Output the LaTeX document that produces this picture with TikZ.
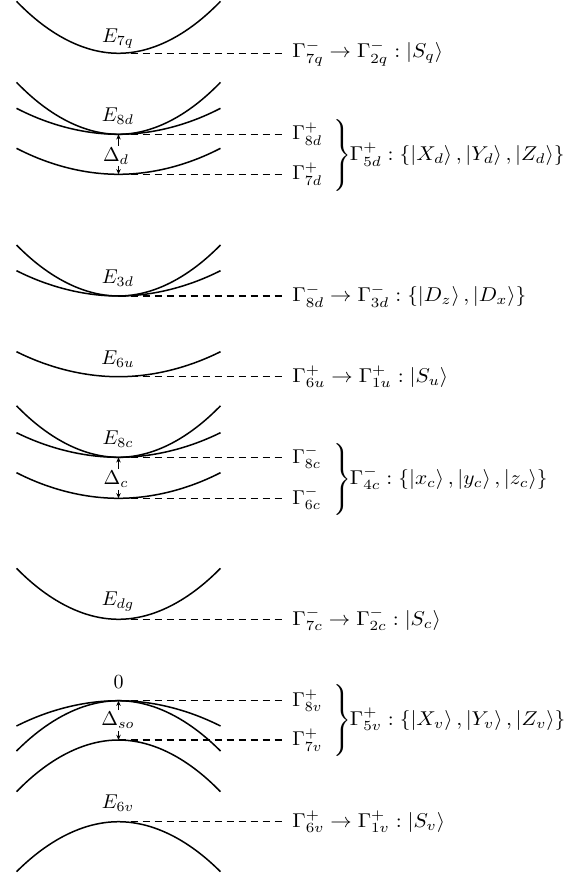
\documentclass[tikz,border=0pt]{standalone}
\usepackage{graphicx}
\usetikzlibrary{arrows.meta}
\tikzset{
  band/.style={line width=0.75pt},
  lvl/.style={line width=0.6pt, dash pattern=on 3.6pt off 2.4pt, shorten >=4pt},
  gap/.style={-{Stealth[length=2.6pt,width=2.2pt]}, line width=0.6pt},
  lab/.style={anchor=west, inner xsep=0.5pt, inner ysep=0pt},
  elab/.style={inner sep=0.5pt},
  dlab/.style={inner sep=0.8pt},
  setlab/.style={anchor=west, inner sep=0pt}
}
\newcommand{\wide}[1]{\scalebox{1.07}[1]{$#1$}}
\newcommand{\bracetext}[1]{$\left.\vrule height 16.5pt depth 16.5pt width 0pt\right\}\kern-2.5pt\wide{#1}$}
\begin{document}
\begin{tikzpicture}[x=0.5pt,y=-0.5pt]
\useasboundingbox (0,0) rectangle (577,878);

% ---- 1: E7q
\coordinate (v1) at (118.5,53.3);
\draw[band] (16.5,1.3) parabola bend (v1) (220.5,1.3);
\node[elab] (e1) at (118,39) {$E_{7q}$};
\node[lab] (g1) at (291,53.3) {\wide{\Gamma^{-}_{7q}\rightarrow\Gamma^{-}_{2q}:\left|S_q\right\rangle}};
\draw[lvl] (v1) -- (g1.west);

% ---- 2: E8d
\coordinate (v2) at (118.5,134.3);
\coordinate (w2) at (118.5,174.3);
\draw[band] (16.5,82.3) parabola bend (v2) (220.5,82.3);
\draw[band] (16.5,108.3) parabola bend (v2) (220.5,108.3);
\draw[band] (16.5,148.3) parabola bend (w2) (220.5,148.3);
\node[elab] (e2) at (118,116.3) {$E_{8d}$};
\node[dlab] (d2) at (116,156) {$\Delta_d$};
\draw[gap] (d2.north -| v2) -- (v2);
\draw[gap] (d2.south -| w2) -- (w2);
\node[lab] (g2a) at (291,134.3) {$\Gamma^{+}_{8d}$};
\node[lab] (g2b) at (291,174.3) {$\Gamma^{+}_{7d}$};
\draw[lvl] (v2) -- (g2a.west);
\draw[lvl] (w2) -- (g2b.west);
\node[setlab] (s2) at (331,156) {\bracetext{\Gamma^{+}_{5d}:\left\{\left|X_d\right\rangle,\left|Y_d\right\rangle,\left|Z_d\right\rangle\right\}}};

% ---- 3: E3d
\coordinate (v3) at (118.5,296);
\draw[band] (16.5,245) parabola bend (v3) (220.5,245);
\draw[band] (16.5,270.7) parabola bend (v3) (220.5,270.7);
\node[elab] (e3) at (118,278) {$E_{3d}$};
\node[lab] (g3) at (291,296) {\wide{\Gamma^{-}_{8d}\rightarrow\Gamma^{-}_{3d}:\left\{\left|D_z\right\rangle,\left|D_x\right\rangle\right\}}};
\draw[lvl] (v3) -- (g3.west);

% ---- 4: E6u
\coordinate (v4) at (118.5,376.7);
\draw[band] (16.5,351.7) parabola bend (v4) (220.5,351.7);
\node[elab] (e4) at (118,359) {$E_{6u}$};
\node[lab] (g4) at (291,376.7) {\wide{\Gamma^{+}_{6u}\rightarrow\Gamma^{+}_{1u}:\left|S_u\right\rangle}};
\draw[lvl] (v4) -- (g4.west);

% ---- 5: E8c
\coordinate (v5) at (118.5,457.3);
\coordinate (w5) at (118.5,498.3);
\draw[band] (16.5,405.8) parabola bend (v5) (220.5,405.8);
\draw[band] (16.5,432.7) parabola bend (v5) (220.5,432.7);
\draw[band] (16.5,472.7) parabola bend (w5) (220.5,472.7);
\node[elab] (e5) at (118,439) {$E_{8c}$};
\node[dlab] (d5) at (116,479.5) {$\Delta_c$};
\draw[gap] (d5.north -| v5) -- (v5);
\draw[gap] (d5.south -| w5) -- (w5);
\node[lab] (g5a) at (291,457.3) {$\Gamma^{-}_{8c}$};
\node[lab] (g5b) at (291,498.3) {$\Gamma^{-}_{6c}$};
\draw[lvl] (v5) -- (g5a.west);
\draw[lvl] (w5) -- (g5b.west);
\node[setlab] (s5) at (331,480) {\bracetext{\Gamma^{-}_{4c}:\left\{\left|x_c\right\rangle,\left|y_c\right\rangle,\left|z_c\right\rangle\right\}}};

% ---- 6: Edg
\coordinate (v6) at (118.5,619.3);
\draw[band] (16.5,568.3) parabola bend (v6) (220.5,568.3);
\node[elab] (e6) at (118,601.5) {$E_{dg}$};
\node[lab] (g6) at (291,619.3) {\wide{\Gamma^{-}_{7c}\rightarrow\Gamma^{-}_{2c}:\left|S_c\right\rangle}};
\draw[lvl] (v6) -- (g6.west);

% ---- 7: valence top
\coordinate (v7) at (118.5,700.7);
\coordinate (w7) at (118.5,740);
\draw[band] (16.5,726) parabola bend (v7) (220.5,726);
\draw[band] (16.5,751) parabola bend (v7) (220.5,751);
\draw[band] (16.5,791.7) parabola bend (w7) (220.5,791.7);
\node[elab] (e7) at (118.5,682) {$0$};
\node[dlab] (d7) at (118,720.5) {$\Delta_{so}$};
\draw[gap] (d7.north -| v7) -- (v7);
\draw[gap] (d7.south -| w7) -- (w7);
\node[lab] (g7a) at (291,700.7) {$\Gamma^{+}_{8v}$};
\node[lab] (g7b) at (291,740) {$\Gamma^{+}_{7v}$};
\draw[lvl] (v7) -- (g7a.west);
\draw[lvl] (w7) -- (g7b.west);
\node[setlab] (s7) at (331,721.5) {\bracetext{\Gamma^{+}_{5v}:\left\{\left|X_v\right\rangle,\left|Y_v\right\rangle,\left|Z_v\right\rangle\right\}}};

% ---- 8: E6v
\coordinate (v8) at (118.5,821.7);
\draw[band] (16.5,871.7) parabola bend (v8) (220.5,871.7);
\node[elab] (e8) at (118,803.5) {$E_{6v}$};
\node[lab] (g8) at (291,821.7) {\wide{\Gamma^{+}_{6v}\rightarrow\Gamma^{+}_{1v}:\left|S_v\right\rangle}};
\draw[lvl] (v8) -- (g8.west);
\end{tikzpicture}
\end{document}
